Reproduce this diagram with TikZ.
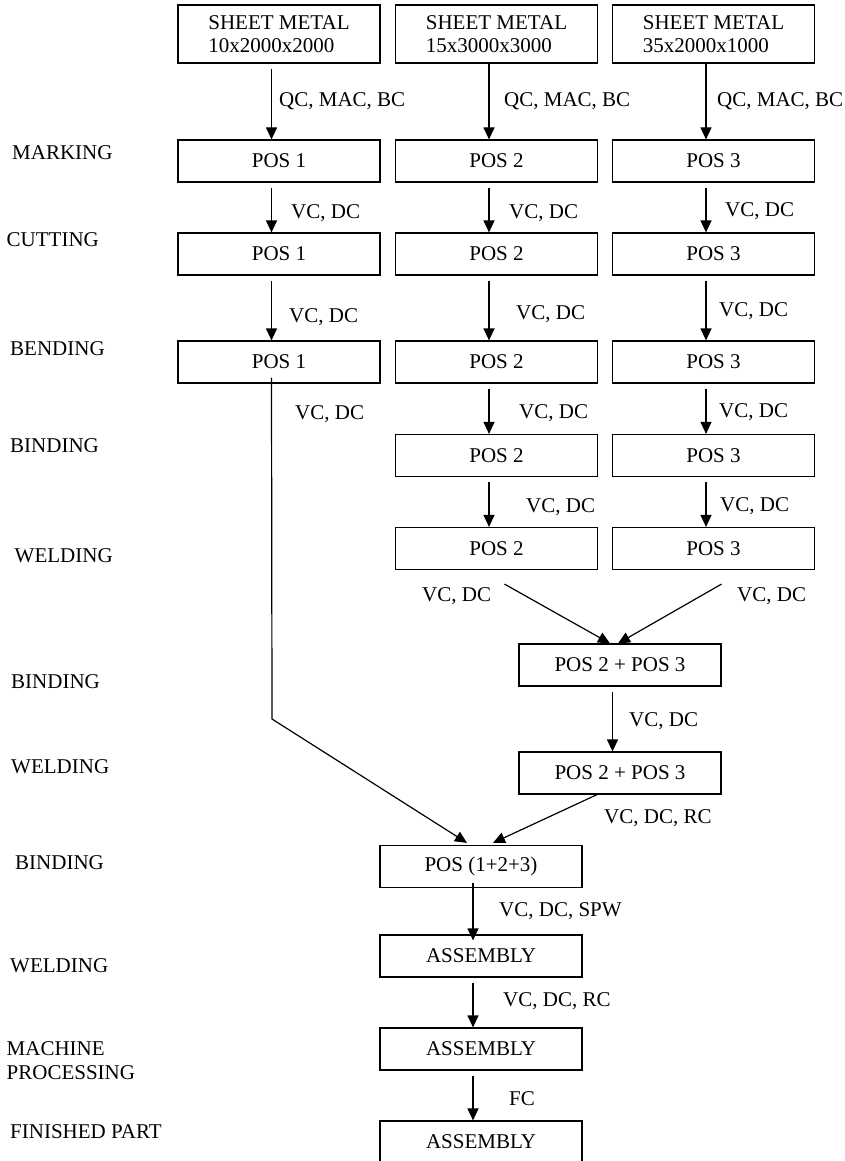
\documentclass[tikz,border=0pt]{standalone}
\usepackage{fontspec}
\setmainfont{Liberation Serif}
\usetikzlibrary{arrows.meta}
\tikzset{
  box/.style={draw, line width=1.2pt, minimum width=202pt, minimum height=42pt, inner sep=0pt},
  sheet/.style={box, minimum height=58pt, align=left},
  lab/.style={anchor=west, inner sep=0pt, text height=13.9pt, text depth=0pt},
  flow/.style={line width=1.2pt, -{Triangle[length=12pt,width=11pt]}},
  gapped/.style={shorten <=5pt},
}

\begin{document}
\begin{tikzpicture}[x=1pt, y=-1pt, font=\fontsize{21}{23}\selectfont]
    \useasboundingbox (0,0) rectangle (845,1161);
    \def\dx{-7.5pt}

    % --- 1. sheet metal ---
    \node[sheet] (sm1) at (279,34) {SHEET METAL\\10x2000x2000};
    \node[sheet] (sm2) at (496.5,34) {SHEET METAL\\15x3000x3000};
    \node[sheet] (sm3) at (713.5,34) {SHEET METAL\\35x2000x1000};

    % --- 2. three parallel positions ---
    \node[box] (mark1) at (279,161) {POS 1};
    \node[box] (mark2) at (496.5,161) {POS 2};
    \node[box] (mark3) at (713.5,161) {POS 3};
    \node[box] (cut1) at (279,254) {POS 1};
    \node[box] (cut2) at (496.5,254) {POS 2};
    \node[box] (cut3) at (713.5,254) {POS 3};
    \node[box] (bend1) at (279,362) {POS 1};
    \node[box] (bend2) at (496.5,362) {POS 2};
    \node[box] (bend3) at (713.5,362) {POS 3};
    \node[box] (bind2) at (496.5,455.5) {POS 2};
    \node[box] (bind3) at (713.5,455.5) {POS 3};
    \node[box] (weld2) at (496.5,548.5) {POS 2};
    \node[box] (weld3) at (713.5,548.5) {POS 3};

    % --- 3. joined parts ---
    \node[box] (bind23) at (620,665) {POS 2 + POS 3};
    \node[box] (weld23) at (620,773) {POS 2 + POS 3};
    \node[box] (all) at (481,866.5) {POS (1+2+3)};
    \node[box] (asm1) at (481,956) {ASSEMBLY};
    \node[box] (asm2) at (481,1049) {ASSEMBLY};
    \node[box] (asm3) at (481,1142) {ASSEMBLY};

    % --- 4. connectors ---
    \draw[flow, gapped] ([xshift=\dx]sm1.south) -- ([xshift=\dx]mark1.north);
    \draw[flow] ([xshift=\dx]sm2.south) -- ([xshift=\dx]mark2.north);
    \draw[flow] ([xshift=\dx]sm3.south) -- ([xshift=\dx]mark3.north);
    \draw[flow, gapped] ([xshift=\dx]mark1.south) -- ([xshift=\dx]cut1.north);
    \draw[flow, gapped] ([xshift=\dx]mark2.south) -- ([xshift=\dx]cut2.north);
    \draw[flow, gapped] ([xshift=\dx]mark3.south) -- ([xshift=\dx]cut3.north);
    \draw[flow, gapped] ([xshift=\dx]cut1.south) -- ([xshift=\dx]bend1.north);
    \draw[flow, gapped] ([xshift=\dx]cut2.south) -- ([xshift=\dx]bend2.north);
    \draw[flow, gapped] ([xshift=\dx]cut3.south) -- ([xshift=\dx]bend3.north);
    \draw[flow, gapped] ([xshift=\dx]bend2.south) -- ([xshift=\dx]bind2.north);
    \draw[flow, gapped] ([xshift=\dx]bend3.south) -- ([xshift=\dx]bind3.north);
    \draw[flow, gapped] ([xshift=\dx]bind2.south) -- ([xshift=\dx]weld2.north);
    \draw[flow, gapped] ([xshift=\dx]bind3.south) -- ([xshift=\dx]weld3.north);
    \draw[flow] ([xshift=8pt,yshift=-14pt]weld2.south) -- ([xshift=-10pt]bind23.north);
    \draw[flow] ([xshift=8pt,yshift=-14pt]weld3.south) -- ([xshift=-2pt]bind23.north);
    \draw[flow, gapped] ([xshift=\dx]bind23.south) -- ([xshift=\dx]weld23.north);
    \coordinate (knee) at (272,719);
    \draw[flow] ([xshift=\dx,yshift=6pt]bend1.south) -- (knee) -- ([xshift=-14pt,yshift=2pt]all.north);
    \draw[flow] ([xshift=-23pt]weld23.south) -- ([xshift=12pt,yshift=2pt]all.north);
    \draw[flow] ([xshift=-8pt,yshift=5pt]all.south) -- ([xshift=-8pt,yshift=-6pt]asm1.north);
    \draw[flow, gapped] ([xshift=-8pt]asm1.south) -- ([xshift=-8pt]asm2.north);
    \draw[flow, gapped] ([xshift=-8pt]asm2.south) -- ([xshift=-8pt]asm3.north);

    % --- 5. connector labels ---
    \node[lab] (qc1) at (279,100) {QC, MAC, BC};
    \node[lab] (qc2) at (504,100) {QC, MAC, BC};
    \node[lab] (qc3) at (717,100) {QC, MAC, BC};
    \node[lab] (vcm1) at (291,212) {VC, DC};
    \node[lab] (vcm2) at (509,212) {VC, DC};
    \node[lab] (vcm3) at (725,210) {VC, DC};
    \node[lab] (vcc1) at (289,316) {VC, DC};
    \node[lab] (vcc2) at (516,313) {VC, DC};
    \node[lab] (vcc3) at (719,310) {VC, DC};
    \node[lab] (vcb1) at (295,413) {VC, DC};
    \node[lab] (vcb2) at (519,412) {VC, DC};
    \node[lab] (vcb3) at (719,411) {VC, DC};
    \node[lab] (vcn2) at (526,506) {VC, DC};
    \node[lab] (vcn3) at (720,505) {VC, DC};
    \node[lab] (vcw2) at (422,595) {VC, DC};
    \node[lab] (vcw3) at (737,595) {VC, DC};
    \node[lab] (vcj) at (629,720) {VC, DC};
    \node[lab] (vcrc1) at (604,817) {VC, DC, RC};
    \node[lab] (vcspw) at (499,910) {VC, DC, SPW};
    \node[lab] (vcrc2) at (503,1000) {VC, DC, RC};
    \node[lab] (fc) at (509,1099) {FC};

    % --- 6. stage names ---
    \node[lab] (s1) at (12,153) {MARKING};
    \node[lab] (s2) at (6.5,240) {CUTTING};
    \node[lab] (s3) at (10,349) {BENDING};
    \node[lab] (s4) at (10,446) {BINDING};
    \node[lab] (s5) at (14.5,556) {WELDING};
    \node[lab] (s6) at (11,682) {BINDING};
    \node[lab] (s7) at (11,767) {WELDING};
    \node[lab] (s8) at (15,863) {BINDING};
    \node[lab] (s9) at (10,966) {WELDING};
    \node[anchor=north west, inner sep=0pt, align=left, font=\fontsize{21}{24}\selectfont] (s10) at (6.5,1041) {MACHINE\\PROCESSING};
    \node[lab] (s11) at (10,1132) {FINISHED PART};
\end{tikzpicture}
\end{document}
